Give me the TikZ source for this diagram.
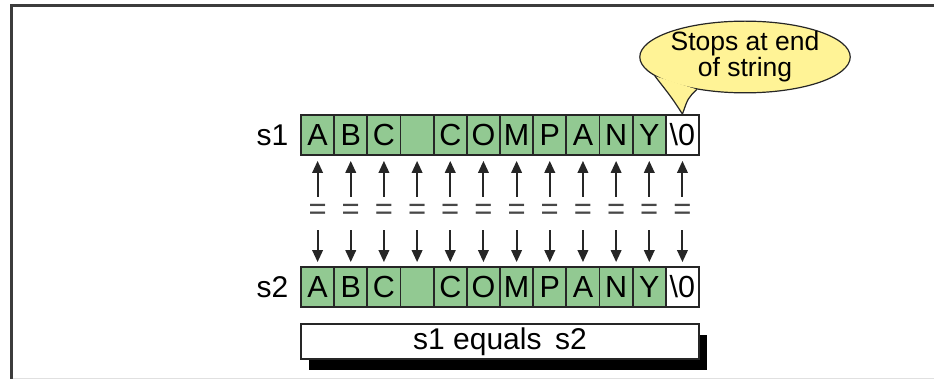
\documentclass[tikz,border=0pt]{standalone}
\usepackage{fontspec}
\setmainfont{Liberation Sans}
\usetikzlibrary{arrows.meta,shapes.geometric,shadows}
\definecolor{cellgreen}{RGB}{146,201,146}
\definecolor{callyellow}{RGB}{255,243,150}
\definecolor{edge}{RGB}{38,38,38}
\definecolor{framecol}{RGB}{60,60,60}
\begin{document}
\begin{tikzpicture}[x=1pt,y=-1pt,
  cell/.style={draw=edge,line width=1.8pt,fill=cellgreen,minimum width=33.17pt,
    minimum height=40pt,inner sep=0pt,font=\fontsize{30.5}{32}\selectfont},
  endcell/.style={cell,fill=white},
  lbl/.style={inner sep=0pt,font=\fontsize{30}{32}\selectfont},
  eqs/.style={inner sep=0pt,minimum height=30pt,text=edge!85,font=\fontsize{31}{32}\selectfont},
  arr/.style={draw=edge,line width=2pt,-{Triangle[length=12pt,width=10.5pt]}},
  callout/.style={ellipse,draw=edge,line width=1.2pt,fill=callyellow,minimum width=180pt,
    minimum height=63pt,inner sep=0pt,align=center,font=\fontsize{26.5}{26}\selectfont},
  resultbox/.style={draw=edge,line width=2pt,fill=white,minimum width=398pt,minimum height=35pt,
    inner sep=0pt,font=\fontsize{30}{32}\selectfont,
    drop shadow={shadow xshift=8pt,shadow yshift=-11pt,fill=black,opacity=1}}
]
\useasboundingbox (0,0) rectangle (934,379);
% frame
\draw[framecol,line width=3pt] (11,379) -- (11,6) -- (934,6);
\draw[black!12,line width=1pt] (12.5,378.5) -- (934,378.5);

% string cells
\foreach \ch [count=\i] in {A,B,C,{},C,O,M,P,A,N,Y} {
  \node[cell] (a\i) at ({301+33.17*(\i-0.5)},135) {\ch};
  \node[cell] (b\i) at ({301+33.17*(\i-0.5)},287) {\ch};
}
\node[endcell] (a12) at ({301+33.17*11.5},135) {\textbackslash0};
\node[endcell] (b12) at ({301+33.17*11.5},287) {\textbackslash0};

\node[lbl] (s1) at (272.5,135) {s1};
\node[lbl] (s2) at (272.5,287) {s2};

% comparisons
\foreach \i in {1,...,12} {
  \node[eqs] (e\i) at ({301+33.17*(\i-0.5)},212) {=};
  \draw[arr,shorten >=5pt] (e\i.north) -- (a\i.south);
  \draw[arr,shorten <=3pt,shorten >=4pt] (e\i.south) -- (b\i.north);
}

% callout
\node[callout] (co) at (745,57) {Stops at end\\of string};
\fill[callyellow] (co.192) .. controls (672,98) .. (a12.north) .. controls (688,98) .. (co.214) -- cycle;
\draw[edge,line width=1.2pt] (co.192) .. controls (672,98) .. (a12.north) .. controls (688,98) .. (co.214);

% result
\node[resultbox] (res) at (500,341.5) {s1 equals\hspace{0.45em}s2};
\end{tikzpicture}
\end{document}
